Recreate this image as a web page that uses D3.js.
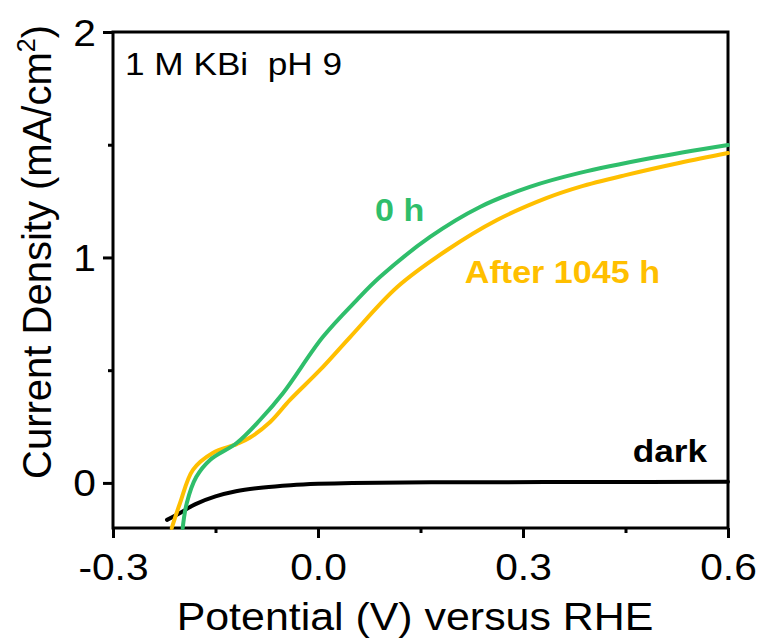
<!DOCTYPE html>
<html>
<head>
<meta charset="utf-8">
<script src="https://cdn.jsdelivr.net/npm/d3@7"></script>
<style>
  body { margin: 0; background: #fff; }
  svg text { font-family: "Liberation Sans", Arial, sans-serif; white-space: pre; }
</style>
</head>
<body>
<svg id="chart" width="765" height="644"></svg>
<script>
// potential (V vs RHE) and current density (mA/cm2)
const greenV = [-0.198, -0.192, -0.178, -0.158, -0.119, -0.085, -0.051, 0.007, 0.057, 0.091, 0.164, 0.237, 0.310, 0.383, 0.486, 0.600];
const greenJ = [-0.20, -0.089, 0.027, 0.102, 0.177, 0.279, 0.399, 0.647, 0.812, 0.914, 1.091, 1.224, 1.313, 1.375, 1.440, 1.499];

const yellowV = [-0.214, -0.202, -0.183, -0.154, -0.119, -0.100, -0.070, -0.041, 0.003, 0.047, 0.116, 0.189, 0.262, 0.335, 0.383, 0.450, 0.530, 0.600];
const yellowJ = [-0.20, -0.09, 0.058, 0.133, 0.172, 0.200, 0.270, 0.368, 0.501, 0.647, 0.869, 1.033, 1.166, 1.264, 1.313, 1.365, 1.420, 1.463];

const darkV = [-0.221, -0.200, -0.180, -0.150, -0.120, -0.080, -0.040, 0.000, 0.050, 0.200, 0.400, 0.600];
const darkJ = [-0.164, -0.130, -0.095, -0.060, -0.037, -0.020, -0.010, -0.004, 0.000, 0.003, 0.004, 0.005];

const xTicks = [-0.3, 0.0, 0.3, 0.6];
const xMinor = [-0.15, 0.15, 0.45];
const yTicks = [0, 1, 2];
const yMinor = [0.5, 1.5];

const GREEN = "#2fbe6b", YELLOW = "#ffbf00";
const SX = 1.1; // the figure is stretched sideways a little

const margin = { top: 32, right: 37, bottom: 116, left: 113 };
const W = 765, H = 644;
const w = W - margin.left - margin.right, h = H - margin.top - margin.bottom;

const svg = d3.select("#chart");
const g = svg.append("g").attr("transform", `translate(${margin.left},${margin.top})`);

const x = d3.scaleLinear().domain([-0.3, 0.6]).range([0, w]);
const y = d3.scaleLinear().domain([-0.2, 2]).range([h, 0]);

// frame
g.append("rect").attr("width", w).attr("height", h)
  .attr("fill", "none").attr("stroke", "#000").attr("stroke-width", 3);

// axes ticks
const fmt = d => d3.format(".1f")(d).replace("\u2212", "-");
const xAxis = g.append("g").attr("transform", `translate(0,${h})`)
  .call(d3.axisBottom(x).tickValues(xTicks).tickSize(10).tickFormat(fmt));
g.append("g").attr("transform", `translate(0,${h})`)
  .call(d3.axisBottom(x).tickValues(xMinor).tickSize(5).tickFormat(""));
const yAxis = g.append("g")
  .call(d3.axisLeft(y).tickValues(yTicks).tickSize(10).tickFormat(d3.format("d")));
g.append("g")
  .call(d3.axisLeft(y).tickValues(yMinor).tickSize(5).tickFormat(""));

g.selectAll(".domain").remove();
g.selectAll(".tick line").attr("stroke", "#000").attr("stroke-width", 3);

xAxis.selectAll(".tick text")
  .attr("y", 0).attr("dy", 0)
  .attr("transform", `translate(0,52) scale(${SX},1)`)
  .attr("font-size", 37).attr("fill", "#000");
yAxis.selectAll(".tick text")
  .attr("x", 0).attr("dy", 0)
  .attr("transform", `translate(-17,13) scale(${SX},1)`)
  .attr("font-size", 37).attr("fill", "#000");

// curves
const line = d3.line().x(d => x(d[0])).y(d => y(d[1])).curve(d3.curveCatmullRom.alpha(0.5));
const series = [
  { v: darkV, j: darkJ, c: "#000" },
  { v: yellowV, j: yellowJ, c: YELLOW },
  { v: greenV, j: greenJ, c: GREEN }
];
g.append("g").selectAll("path").data(series).join("path")
  .attr("d", s => line(s.v.map((v, i) => [v, s.j[i]])))
  .attr("fill", "none").attr("stroke", s => s.c).attr("stroke-width", 4)
  .attr("stroke-linecap", "round");

// labels
function label(txt, px, py, size, color, weight, anchor) {
  return svg.append("text")
    .attr("transform", `translate(${px},${py}) scale(${SX},1)`)
    .attr("font-size", size).attr("fill", color)
    .attr("font-weight", weight).attr("text-anchor", anchor || "start")
    .text(txt);
}
label("1 M KBi  pH 9", 125, 75, 32, "#000", "normal");
label("0 h", 375, 221, 31, GREEN, "bold");
label("After 1045 h", 660, 283, 31, YELLOW, "bold", "end");
label("dark", 707, 462, 32, "#000", "bold", "end");
label("Potential (V) versus RHE", 415, 630, 39, "#000", "normal", "middle");

const yt = svg.append("text")
  .attr("transform", "translate(51,252) rotate(-90)")
  .attr("font-size", 40).attr("text-anchor", "middle").attr("fill", "#000");
yt.append("tspan").text("Current Density (mA/cm");
yt.append("tspan").attr("font-size", 25).attr("dy", -16).text("2");
yt.append("tspan").attr("dy", 16).text(")");
</script>
</body>
</html>
